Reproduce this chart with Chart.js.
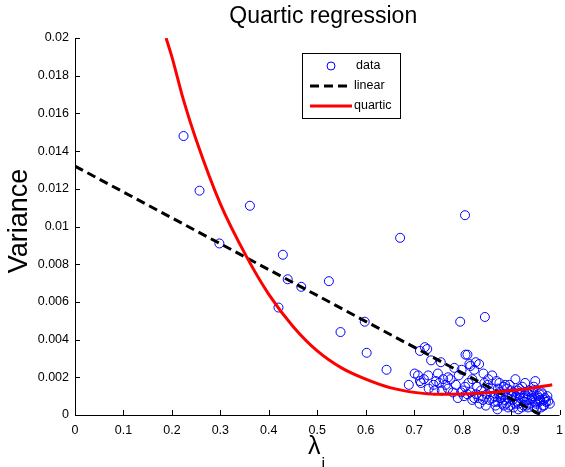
<!DOCTYPE html>
<html>
<head>
<meta charset="utf-8">
<script src="https://cdn.jsdelivr.net/npm/chart.js@4"></script>
<style>
  html, body { margin: 0; padding: 0; background: #fff; }
  canvas { display: block; }
</style>
</head>
<body>
<canvas id="chart" width="565" height="467"></canvas>
<script>
// scatter data (lambda_i, variance)
var lamX = [
  0.224, 0.257, 0.298, 0.361, 0.429, 0.439, 0.467, 0.524, 0.420, 0.548,
  0.598, 0.602, 0.643, 0.671, 0.805, 0.795, 0.846,
  0.712, 0.722, 0.727, 0.735, 0.755, 0.783, 0.806, 0.810, 0.814, 0.827,
  0.834, 0.824, 0.816, 0.843, 0.861, 0.701, 0.708, 0.729, 0.749, 0.689,
  0.712, 0.714, 0.745, 0.752, 0.765, 0.786, 0.720, 0.760, 0.770, 0.775,
  0.730, 0.742, 0.757, 0.770, 0.780, 0.797, 0.803, 0.810, 0.816, 0.824,
  0.830, 0.838, 0.845, 0.850, 0.855, 0.860, 0.865, 0.870, 0.872, 0.878,
  0.880, 0.885, 0.888, 0.890, 0.895, 0.900, 0.903, 0.909, 0.910, 0.915,
  0.920, 0.925, 0.929, 0.932, 0.935, 0.940, 0.945, 0.950, 0.952, 0.955,
  0.960, 0.963, 0.966, 0.970, 0.972, 0.977, 0.980, 0.820, 0.835, 0.840,
  0.848, 0.858, 0.868, 0.875, 0.882, 0.893, 0.898, 0.905, 0.912, 0.918,
  0.922, 0.928, 0.938, 0.943, 0.948, 0.958, 0.962, 0.968, 0.805, 0.812,
  0.820, 0.828, 0.833, 0.852, 0.862, 0.873, 0.883, 0.892, 0.902, 0.913,
  0.923, 0.933, 0.942, 0.957, 0.790, 0.800, 0.842, 0.866, 0.887, 0.908,
  0.930, 0.950, 0.798, 0.740, 0.792, 0.853, 0.876, 0.897, 0.917, 0.937,
  0.947, 0.965, 0.975, 0.885, 0.905, 0.926, 0.872, 0.894, 0.915, 0.935,
  0.953, 0.968, 0.878, 0.918, 0.944, 0.959
];
var varY = [
  0.0148, 0.0119, 0.0091, 0.0111, 0.0085, 0.0072, 0.0068, 0.0071, 0.0057, 0.0044,
  0.00495, 0.0033, 0.0024, 0.0094, 0.0106, 0.00495, 0.0052,
  0.0034, 0.0036, 0.0035, 0.0029, 0.0028, 0.0025, 0.0032, 0.0032, 0.0027, 0.0028,
  0.0027, 0.0024, 0.0026, 0.0022, 0.0021, 0.0022, 0.0021, 0.0021, 0.0022, 0.0016,
  0.0018, 0.0017, 0.0018, 0.0017, 0.0016, 0.0016, 0.0019, 0.0019, 0.0020, 0.0019,
  0.0014, 0.0013, 0.0013, 0.0014, 0.0012, 0.0012, 0.0010, 0.0011, 0.0012, 0.0009,
  0.0015, 0.0013, 0.0017, 0.0011, 0.0008, 0.0014, 0.0010, 0.0018, 0.0007, 0.0012,
  0.0009, 0.0015, 0.0016, 0.0006, 0.0011, 0.0013, 0.0008, 0.0019, 0.0010, 0.0006,
  0.0012, 0.0009, 0.0017, 0.0005, 0.0011, 0.0008, 0.0013, 0.0018, 0.0006, 0.0010,
  0.0008, 0.0012, 0.0005, 0.0009, 0.0007, 0.00074, 0.0006, 0.0008, 0.0006, 0.0010,
  0.0005, 0.0012, 0.0005, 0.0011, 0.0006, 0.0009, 0.0005, 0.0012, 0.0007, 0.0009,
  0.0004, 0.0007, 0.0006, 0.0010, 0.0004, 0.0007, 0.0004, 0.0008, 0.0015, 0.0017,
  0.0019, 0.0011, 0.0009, 0.0016, 0.0009, 0.0014, 0.0011, 0.0014, 0.0010, 0.0013,
  0.0015, 0.0008, 0.0012, 0.0009, 0.0009, 0.0013, 0.0008, 0.0007, 0.0008, 0.0006,
  0.0010, 0.0007, 0.0024, 0.0016, 0.0021, 0.0019, 0.0017, 0.0016, 0.0014, 0.0013,
  0.0015, 0.0011, 0.0010, 0.0005, 0.0004, 0.0005, 0.0003, 0.0004, 0.0003, 0.0004,
  0.0003, 0.0005, 0.0009, 0.0011, 0.0009, 0.0011
];

// linear fit end points
var linX = [0, 0.962];
var linY = [0.0132, 0];

// quartic fit
var quartX = [0.188, 0.20, 0.224, 0.25, 0.30, 0.354, 0.40, 0.45, 0.50, 0.55,
              0.60, 0.65, 0.70, 0.75, 0.80, 0.85, 0.90, 0.95, 0.985];
var quartY = [0.0200, 0.0190, 0.0167, 0.0146, 0.0112, 0.0084, 0.0064, 0.0047, 0.0034, 0.0025,
              0.0019, 0.00145, 0.0012, 0.0011, 0.00112, 0.00118, 0.0013, 0.00145, 0.0016];

var xTicks = [0, 0.1, 0.2, 0.3, 0.4, 0.5, 0.6, 0.7, 0.8, 0.9, 1];
var yTicks = [0, 0.002, 0.004, 0.006, 0.008, 0.01, 0.012, 0.014, 0.016, 0.018, 0.02];

function pts(xs, ys) {
  return xs.map(function(x, i) { return {x: x, y: ys[i]}; });
}

var FONT = '"Liberation Sans", Arial, sans-serif';

var decorations = {
  id: 'decorations',
  afterDraw: function(chart) {
    var ctx = chart.ctx;
    var a = chart.chartArea;
    var xs = chart.scales.x, ys = chart.scales.y;
    ctx.save();
    // axes
    ctx.strokeStyle = '#000';
    ctx.lineWidth = 1;
    ctx.beginPath();
    ctx.moveTo(a.left + 0.5, a.top);
    ctx.lineTo(a.left + 0.5, a.bottom + 0.5);
    ctx.lineTo(a.right, a.bottom + 0.5);
    ctx.stroke();
    // inward ticks
    ctx.beginPath();
    xTicks.forEach(function(v) {
      var px = Math.round(xs.getPixelForValue(v)) + 0.5;
      ctx.moveTo(px, a.bottom);
      ctx.lineTo(px, a.bottom - 5);
    });
    yTicks.forEach(function(v) {
      var py = Math.round(ys.getPixelForValue(v)) + 0.5;
      ctx.moveTo(a.left, py);
      ctx.lineTo(a.left + 5, py);
    });
    ctx.stroke();

    // title
    ctx.fillStyle = '#000';
    ctx.textAlign = 'center';
    ctx.textBaseline = 'middle';
    ctx.font = '23px ' + FONT;
    ctx.fillText('Quartic regression', (a.left + a.right) / 2 + 6, 17);

    // y title
    ctx.save();
    ctx.translate(20, 221);
    ctx.rotate(-Math.PI / 2);
    ctx.font = '27px ' + FONT;
    ctx.fillText('Variance', 0, 0);
    ctx.restore();

    // x title lambda_i
    var cx = (a.left + a.right) / 2 - 3;
    ctx.font = '25px ' + FONT;
    ctx.fillText('\u03bb', cx, 447);
    ctx.font = '16px ' + FONT;
    ctx.fillText('i', cx + 9, 465);

    // legend box
    var lx = 302, ly = 53, lw = 98, lh = 65;
    ctx.fillStyle = '#fff';
    ctx.fillRect(lx, ly, lw, lh);
    ctx.strokeStyle = '#000';
    ctx.lineWidth = 1;
    ctx.strokeRect(lx + 0.5, ly + 0.5, lw, lh);

    ctx.strokeStyle = '#0000ff';
    ctx.beginPath();
    ctx.arc(331, 66, 4, 0, Math.PI * 2);
    ctx.stroke();

    ctx.strokeStyle = '#000';
    ctx.lineWidth = 3;
    ctx.setLineDash([9, 5]);
    ctx.beginPath();
    ctx.moveTo(310, 86);
    ctx.lineTo(352, 86);
    ctx.stroke();
    ctx.setLineDash([]);

    ctx.strokeStyle = '#ff0000';
    ctx.beginPath();
    ctx.moveTo(310, 106);
    ctx.lineTo(352, 106);
    ctx.stroke();

    ctx.fillStyle = '#000';
    ctx.textAlign = 'left';
    ctx.font = '12.5px ' + FONT;
    ctx.fillText('data', 356, 66);
    ctx.fillText('linear', 354, 86);
    ctx.fillText('quartic', 354, 106);
    ctx.restore();
  }
};

new Chart(document.getElementById('chart'), {
  type: 'scatter',
  data: {
    datasets: [
      {
        label: 'data',
        data: pts(lamX, varY),
        pointStyle: 'circle',
        pointRadius: 4.5,
        pointBorderWidth: 1,
        borderColor: '#0000ff',
        backgroundColor: 'rgba(0,0,0,0)',
        order: 3
      },
      {
        label: 'linear',
        type: 'line',
        data: pts(linX, linY),
        borderColor: '#000',
        borderWidth: 3,
        borderDash: [9, 5],
        pointRadius: 0,
        fill: false,
        order: 2
      },
      {
        label: 'quartic',
        type: 'line',
        data: pts(quartX, quartY),
        borderColor: '#ff0000',
        borderWidth: 3,
        pointRadius: 0,
        cubicInterpolationMode: 'monotone',
        fill: false,
        order: 1
      }
    ]
  },
  options: {
    responsive: false,
    animation: false,
    layout: { padding: { top: 38, right: 3.5, left: 0, bottom: 0 } },
    plugins: {
      legend: { display: false },
      title: { display: false },
      tooltip: { enabled: false }
    },
    scales: {
      x: {
        type: 'linear',
        min: 0, max: 1,
        afterFit: function(s) { s.height = 52; },
        afterBuildTicks: function(s) { s.ticks = xTicks.map(function(v) { return {value: v}; }); },
        grid: { display: false },
        border: { display: false },
        ticks: {
          color: '#000',
          padding: 0,
          maxRotation: 0,
          font: { family: FONT, size: 12.5 },
          callback: function(v) { return String(Number(v.toFixed(1))); }
        }
      },
      y: {
        type: 'linear',
        min: 0, max: 0.02,
        afterFit: function(s) { s.width = 75; },
        afterBuildTicks: function(s) { s.ticks = yTicks.map(function(v) { return {value: v}; }); },
        grid: { display: false },
        border: { display: false },
        ticks: {
          color: '#000',
          padding: -2,
          font: { family: FONT, size: 12.5 },
          callback: function(v) { return String(Number(v.toFixed(3))); }
        }
      }
    }
  },
  plugins: [decorations]
});
</script>
</body>
</html>
